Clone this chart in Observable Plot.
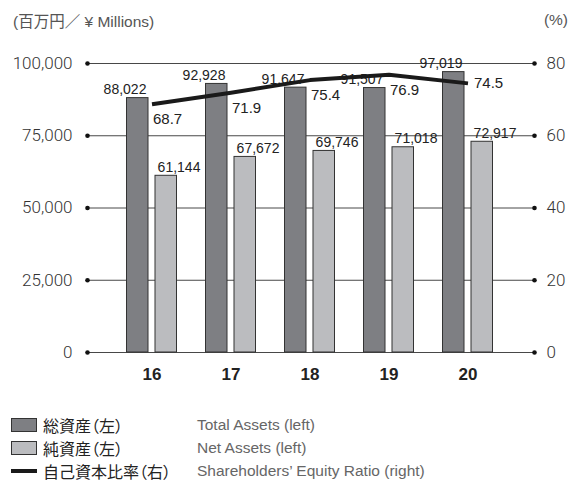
<!DOCTYPE html>
<html>
<head>
<meta charset="utf-8">
<script src="https://cdn.jsdelivr.net/npm/d3@7"></script>
<script src="https://cdn.jsdelivr.net/npm/@observablehq/plot@0.6"></script>
<style>
  html, body { margin: 0; padding: 0; background: #fff; }
  body { width: 578px; height: 482px; overflow: hidden; font-family: "Liberation Sans", Arial, sans-serif; }
  #header { height: 40px; display: flex; justify-content: space-between; align-items: center; padding: 0 10px 0 13px; color: #555; font-size: 15.5px; font-family: "Liberation Sans", "Noto Sans CJK JP", sans-serif; }
  #legend { margin-top: 21px; padding-left: 11px; }
  .row { display: flex; align-items: center; height: 23px; line-height: 20px; }
  .sw { width: 26px; height: 14px; border: 1px solid #333; box-sizing: border-box; }
  .ln { width: 26px; height: 4px; background: #1a1a1a; }
  .jp { width: 154px; padding-left: 6px; font-family: "Noto Sans CJK JP", sans-serif; font-size: 16px; color: #222; font-feature-settings: "palt"; }
  .en { font-size: 15.5px; color: #666; }
</style>
</head>
<body>
<div id="header"><span>(百万円／ ¥ Millions)</span><span>(%)</span></div>
<div id="chart"></div>
<div id="legend"></div>
<script>
const years = ["16", "17", "18", "19", "20"];
const totalAssets = [88022, 92928, 91647, 91507, 97019];
const netAssets = [61144, 67672, 69746, 71018, 72917];
const equityRatio = [68.7, 71.9, 75.4, 76.9, 74.5];
const leftTicks = [0, 25000, 50000, 75000, 100000];
const rightTicks = [0, 20, 40, 60, 80];
const seriesJP = ["総資産（左）", "純資産（左）", "自己資本比率（右）"];
const seriesEN = ["Total Assets (left)", "Net Assets (left)", "Shareholders’ Equity Ratio (right)"];

const darkFill = "#7e7f83";
const lightFill = "#bbbcbf";
const ratioToLeft = 100000 / 80;

const rows = years.map((y, i) => ({
  year: y, total: totalAssets[i], net: netAssets[i],
  ratio: equityRatio[i], ratioScaled: equityRatio[i] * ratioToLeft
}));
const fmt = d3.format(",");
const tickFont = "Roboto, 'Liberation Sans', Arial, sans-serif";

const chart = Plot.plot({
  width: 578,
  height: 352,
  marginLeft: 87,
  marginRight: 44,
  marginTop: 23,
  marginBottom: 40,
  style: { fontFamily: "'Liberation Sans', Arial, sans-serif", background: "transparent" },
  x: { domain: years, paddingInner: 0, paddingOuter: 0.325, align: 0.48 },
  y: { domain: [0, 100000] },
  marks: [
    Plot.ruleY(leftTicks, { stroke: "#333", strokeWidth: 0.9 }),
    Plot.dot(leftTicks, { y: d => d, frameAnchor: "left", r: 2.3, fill: "#111", stroke: null }),
    Plot.dot(leftTicks, { y: d => d, frameAnchor: "right", r: 2.3, fill: "#111", stroke: null }),
    Plot.barY(rows, { x: "year", y: "total", fill: darkFill, stroke: "#333", strokeWidth: 1, insetLeft: 14.5, insetRight: 43 }),
    Plot.barY(rows, { x: "year", y: "net", fill: lightFill, stroke: "#333", strokeWidth: 1, insetLeft: 43, insetRight: 14.5 }),
    Plot.text(rows, { x: "year", y: "total", text: d => fmt(d.total), dx: -27, dy: -4, lineAnchor: "bottom", fontSize: 14, fill: "#222" }),
    Plot.text(rows, { x: "year", y: "net", text: d => fmt(d.net), dx: 27, dy: -4, lineAnchor: "bottom", fontSize: 14, fill: "#222" }),
    Plot.line(rows, { x: "year", y: "ratioScaled", stroke: "#1a1a1a", strokeWidth: 4, strokeLinecap: "butt" }),
    Plot.text(rows.slice(0, 4), { x: "year", y: "ratioScaled", text: d => d.ratio.toFixed(1), textAnchor: "start", dx: 1, dy: 15, fontSize: 15, fill: "#222" }),
    Plot.text(rows.slice(4), { x: "year", y: "ratioScaled", text: d => d.ratio.toFixed(1), textAnchor: "start", dx: 6, dy: 0, fontSize: 15, fill: "#222" }),
    Plot.axisY({ ticks: leftTicks, tickSize: 0, tickPadding: 15, tickFormat: d => fmt(d), fontSize: 17, fontWeight: 300, fontFamily: tickFont, fill: "#333", label: null }),
    Plot.axisY({ anchor: "right", ticks: rightTicks.map(t => t * ratioToLeft), tickSize: 0, tickPadding: 12, tickFormat: d => String(Math.round(d / ratioToLeft)), fontSize: 17, fontWeight: 300, fontFamily: tickFont, fill: "#333", label: null }),
    Plot.axisX({ tickSize: 0, tickPadding: 15, fontSize: 17, fontWeight: "bold", fill: "#222", label: null })
  ]
});
document.getElementById("chart").appendChild(chart);

const legend = document.getElementById("legend");
const swatchKinds = [darkFill, lightFill, null];
seriesJP.forEach((jp, i) => {
  const row = document.createElement("div");
  row.className = "row";
  const sw = document.createElement("div");
  if (swatchKinds[i]) { sw.className = "sw"; sw.style.background = swatchKinds[i]; }
  else { sw.className = "ln"; }
  const j = document.createElement("span"); j.className = "jp"; j.textContent = jp;
  const e = document.createElement("span"); e.className = "en"; e.textContent = seriesEN[i];
  row.append(sw, j, e);
  legend.appendChild(row);
});
</script>
</body>
</html>
